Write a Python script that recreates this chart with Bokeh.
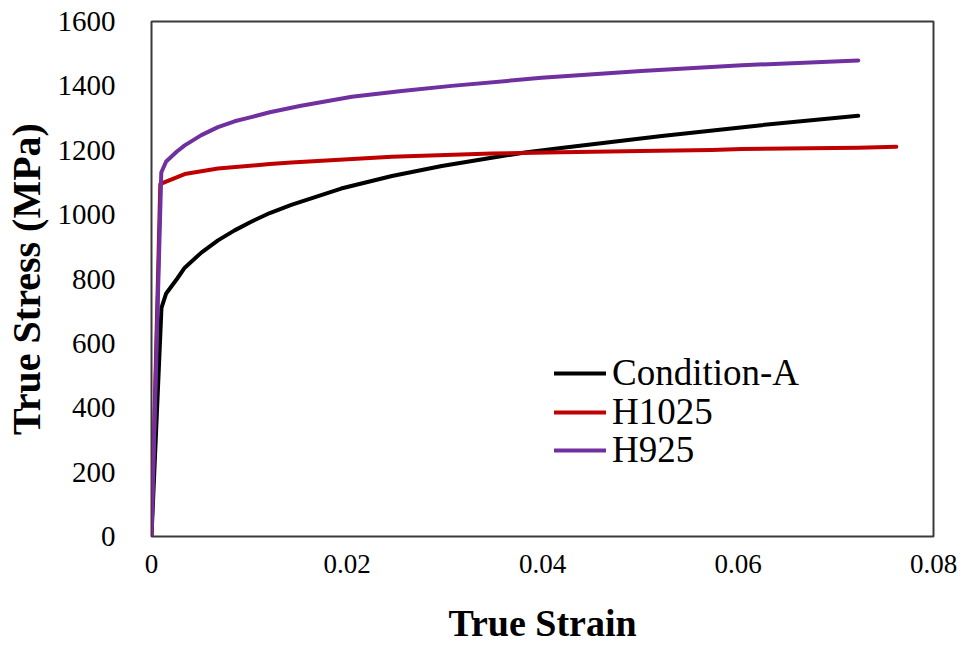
from bokeh.plotting import figure
from bokeh.models import Range1d, FixedTicker, CustomJSTickFormatter, Legend, LegendItem
from bokeh.embed import file_html
from bokeh.resources import INLINE

# Data
cond_a_strain = [0, 0.00102, 0.0015, 0.0026, 0.0034, 0.0051, 0.0068, 0.0085, 0.0102, 0.0121, 0.0143,
                 0.0194, 0.0246, 0.0297, 0.0348, 0.0382, 0.0419, 0.0522, 0.0624, 0.0723]
cond_a_stress = [0, 710, 755, 800, 835, 882, 920, 951, 978, 1005, 1030,
                 1081, 1120, 1151, 1177, 1193, 1207, 1244, 1278, 1307]

h1025_strain = [0, 0.0009, 0.0013, 0.0034, 0.0068, 0.0121, 0.0143, 0.0246, 0.0348, 0.0419, 0.0501,
                0.0573, 0.0604, 0.0723, 0.0762]
h1025_stress = [0, 1095, 1100, 1126, 1143, 1157, 1162, 1180, 1190, 1194, 1198,
                1201, 1204, 1208, 1211]

h925_strain = [0, 0.001, 0.0015, 0.0026, 0.0034, 0.0051, 0.0068, 0.0085, 0.0102, 0.0121, 0.0153,
               0.0205, 0.0256, 0.0307, 0.0399, 0.0501, 0.0604, 0.0723]
h925_stress = [0, 1131, 1165, 1196, 1215, 1247, 1272, 1290, 1303, 1318, 1338,
               1366, 1384, 1400, 1425, 1446, 1464, 1479]

series_names = ["Condition-A", "H1025", "H925"]
series_colors = ["#000000", "#C00000", "#7030A0"]

x_ticks = [0, 0.02, 0.04, 0.06, 0.08]
y_ticks = [0, 200, 400, 600, 800, 1000, 1200, 1400, 1600]

FONT = "Liberation Serif"

p = figure(width=963, height=646, output_backend="svg", toolbar_location=None,
           x_range=Range1d(0, 0.08), y_range=Range1d(0, 1600),
           min_border_left=150, min_border_right=30, min_border_top=21, min_border_bottom=108)
p.background_fill_color = "white"
p.border_fill_color = "white"
p.grid.visible = False
p.outline_line_color = "#3a3a3a"
p.outline_line_width = 2

for ax in (p.xaxis[0], p.yaxis[0]):
    ax.axis_line_color = None
    ax.major_tick_line_color = None
    ax.minor_tick_line_color = None
    ax.major_label_text_font = FONT
    ax.major_label_text_color = "black"
    ax.axis_label_text_font = FONT
    ax.axis_label_text_font_style = "bold"
    ax.axis_label_text_color = "black"

p.xaxis.ticker = FixedTicker(ticks=x_ticks)
p.yaxis.ticker = FixedTicker(ticks=y_ticks)
p.xaxis.formatter = CustomJSTickFormatter(code="return tick == 0 ? '0' : tick.toFixed(2);")
p.xaxis.major_label_text_font_size = "27px"
p.yaxis.major_label_text_font_size = "29px"
p.xaxis.major_label_standoff = 12
p.yaxis.major_label_standoff = 30
p.xaxis.axis_label = "True Strain"
p.yaxis.axis_label = "True Stress (MPa)"
p.xaxis.axis_label_text_font_size = "38px"
p.yaxis.axis_label_text_font_size = "40px"
p.xaxis.axis_label_standoff = 26
p.yaxis.axis_label_standoff = 6

renderers = []
for xs, ys, c in [(cond_a_strain, cond_a_stress, series_colors[0]),
                  (h1025_strain, h1025_stress, series_colors[1]),
                  (h925_strain, h925_stress, series_colors[2])]:
    r = p.line(xs, ys, line_color=c, line_width=4, line_join="round", line_cap="round")
    renderers.append(r)

# one single-row legend per series so the row spacing matches the reference
legend_offsets = [142, 103, 65]
for name, r, yoff in zip(series_names, renderers, legend_offsets):
    lg = Legend(items=[LegendItem(label=name, renderers=[r])],
                location=(403, yoff), orientation="vertical",
                background_fill_alpha=0, border_line_color=None,
                label_text_font=FONT, label_text_font_size="37px", label_text_color="black",
                glyph_width=52, glyph_height=38, label_height=38, label_standoff=6,
                spacing=0, padding=0, margin=0)
    p.add_layout(lg, "center")

open("out.html", "w").write(file_html(p, INLINE))
